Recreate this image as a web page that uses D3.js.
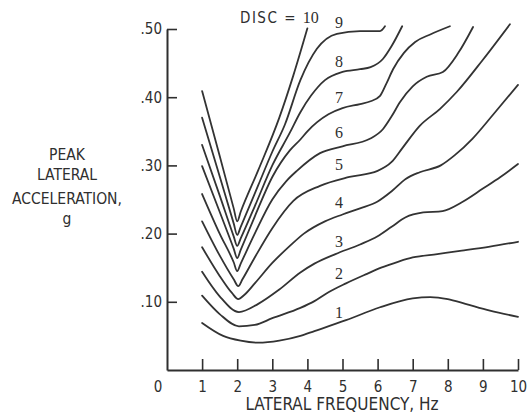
<!DOCTYPE html>
<html>
<head>
<meta charset="utf-8">
<script src="https://cdn.jsdelivr.net/npm/d3@7/dist/d3.min.js"></script>
<style>
  html, body { margin: 0; padding: 0; background: #fff; }
  svg { display: block; }
  .sans { font-family: "Liberation Sans Narrow", "DejaVu Sans Condensed", "Roboto", sans-serif; fill: #2f2f2f; }
  .serif { font-family: "Liberation Serif", "DejaVu Serif", serif; fill: #2f2f2f; }
</style>
</head>
<body>
<svg id="chart" width="527" height="420"></svg>
<script>
// ---- data (frequency Hz, peak lateral acceleration g) ----
const disc1 = [[1,0.069],[1.6,0.050],[2.1,0.043],[2.6,0.040],[3.2,0.043],[3.8,0.050],[4.2,0.057],[5.1,0.073],[6.07,0.092],[7.0,0.105],[7.5,0.107],[8.0,0.104],[8.5,0.097],[9.2,0.087],[10,0.078]];
const disc2 = [[1,0.109],[1.5,0.082],[2.05,0.064],[2.5,0.066],[3.0,0.076],[3.8,0.091],[4.2,0.101],[4.6,0.114],[5.1,0.127],[5.7,0.141],[6.1,0.150],[6.6,0.159],[7.0,0.165],[7.7,0.170],[8.4,0.175],[9.2,0.181],[10,0.188]];
const disc3 = [[1,0.144],[1.5,0.108],[2.05,0.085],[2.6,0.097],[3.2,0.118],[3.8,0.143],[4.2,0.156],[4.8,0.170],[5.5,0.184],[6.0,0.196],[6.4,0.21],[6.8,0.224],[7.3,0.231],[7.85,0.233],[8.4,0.246],[9.0,0.266],[9.5,0.283],[10,0.302]];
const disc4 = [[1,0.180],[1.5,0.138],[1.85,0.113],[2.03,0.104],[2.2,0.11],[2.5,0.127],[3.0,0.157],[3.5,0.182],[3.9,0.20],[4.5,0.218],[5.0,0.228],[5.5,0.237],[6.0,0.247],[6.4,0.262],[6.8,0.28],[7.2,0.29],[7.8,0.30],[8.2,0.315],[8.7,0.339],[9.3,0.375],[10,0.418]];
const disc5 = [[1,0.218],[1.5,0.168],[1.9,0.133],[2.03,0.123],[2.15,0.133],[2.5,0.165],[3.0,0.208],[3.6,0.248],[4.36,0.27],[5.2,0.283],[6.0,0.292],[6.4,0.305],[6.7,0.325],[7.2,0.358],[7.78,0.383],[8.26,0.408],[9.0,0.455],[9.77,0.507]];
const disc6 = [[1,0.258],[1.5,0.2],[1.9,0.158],[2,0.145],[2.1,0.156],[2.5,0.2],[3.0,0.25],[3.4,0.277],[3.7,0.292],[4.36,0.318],[5.0,0.328],[5.78,0.339],[6.15,0.353],[6.4,0.372],[6.64,0.393],[7.0,0.416],[7.4,0.43],[7.86,0.437],[8.3,0.465],[8.72,0.503]];
const disc7 = [[1,0.299],[1.5,0.232],[1.9,0.178],[2,0.164],[2.1,0.176],[2.5,0.225],[3.0,0.283],[3.5,0.322],[3.8,0.338],[4.0,0.350],[4.6,0.375],[5.0,0.384],[5.5,0.390],[5.8,0.394],[6.07,0.402],[6.25,0.42],[6.44,0.441],[6.75,0.465],[7.07,0.481],[7.5,0.492],[8.06,0.504]];
const disc8 = [[1,0.330],[1.5,0.256],[1.9,0.196],[2,0.182],[2.1,0.193],[2.5,0.24],[3.0,0.30],[3.5,0.348],[3.8,0.378],[4.1,0.402],[4.5,0.425],[5.0,0.437],[5.5,0.441],[5.8,0.444],[6.15,0.456],[6.4,0.475],[6.7,0.504]];
const disc9 = [[1,0.370],[1.5,0.284],[1.9,0.215],[2,0.198],[2.1,0.21],[2.6,0.271],[3.0,0.32],[3.36,0.36],[3.8,0.425],[4.27,0.471],[4.84,0.493],[5.5,0.497],[6.07,0.497],[6.21,0.504]];
const disc10 = [[1,0.409],[1.5,0.314],[1.9,0.237],[2,0.218],[2.1,0.232],[2.6,0.293],[3.2,0.370],[3.6,0.432],[4.0,0.501]];

const seriesList = [disc1, disc2, disc3, disc4, disc5, disc6, disc7, disc8, disc9, disc10];

// curve labels (disc rating) placed near 4.9 Hz
const labelNames = ["1","2","3","4","5","6","7","8","9"];
const labelFreq = 4.9;
const labelAcc = [0.085, 0.142, 0.189, 0.246, 0.301, 0.348, 0.399, 0.453, 0.509];

const xTickValues = [1,2,3,4,5,6,7,8,9,10];
const xTickLabels = ["1","2","3","4","5","6","7","8","9","10"];
const yTickValues = [0.1, 0.2, 0.3, 0.4, 0.5];
const yTickLabels = [".10", ".20", ".30", ".40", ".50"];

const xTitle = "LATERAL FREQUENCY, Hz";
const yTitleLines = ["PEAK", "LATERAL", "ACCELERATION,", "g"];
const topLabel = "DISC = ";
const topLabelNum = "10";

// ---- drawing ----
const svg = d3.select("#chart");
const x = d3.scaleLinear().domain([0, 10]).range([167, 518]);
const y = d3.scaleLinear().domain([0, 0.5]).range([370, 29]);
const ink = "#2f2f2f";

// axes
const xAxis = d3.axisBottom(x)
  .tickValues(xTickValues)
  .tickFormat((d, i) => xTickLabels[i])
  .tickSizeInner(-11).tickSizeOuter(0).tickPadding(11);
const gx = svg.append("g").attr("transform", `translate(0,${y(0)})`).call(xAxis);

const yAxis = d3.axisLeft(y)
  .tickValues(yTickValues)
  .tickFormat((d, i) => yTickLabels[i])
  .tickSizeInner(-10).tickSizeOuter(0).tickPadding(5);
const gy = svg.append("g").attr("transform", `translate(${x(0)},0)`).call(yAxis);

[gx, gy].forEach(g => {
  g.select(".domain").attr("stroke", ink).attr("stroke-width", 2);
  g.selectAll(".tick line").attr("stroke", ink).attr("stroke-width", 1.6);
  g.selectAll(".tick text").attr("class", "sans").attr("fill", ink)
    .style("font-size", "15px");
});

// origin label "0"
svg.append("text").attr("class", "sans")
  .attr("x", x(0) - 9).attr("y", y(0) + 11)
  .attr("dy", "0.71em").attr("text-anchor", "middle")
  .style("font-size", "15px").text("0");

// curves
const line = d3.line()
  .x(d => x(d[0])).y(d => y(d[1]))
  .curve(d3.curveMonotoneX);

svg.append("g").selectAll("path")
  .data(seriesList).join("path")
  .attr("d", line)
  .attr("fill", "none")
  .attr("stroke", "#333")
  .attr("stroke-width", 1.8)
  .attr("stroke-linejoin", "round")
  .attr("stroke-linecap", "round");

// curve labels
svg.append("g").selectAll("text")
  .data(labelNames).join("text")
  .attr("class", "serif")
  .attr("x", x(labelFreq))
  .attr("y", (d, i) => y(labelAcc[i]))
  .attr("dy", "0.35em")
  .attr("text-anchor", "middle")
  .style("font-size", "16px")
  .text(d => d);

// top label
const topText = svg.append("text").attr("x", 240).attr("y", 23).style("font-size", "15px");
topText.append("tspan").attr("class", "sans").style("letter-spacing", "1.5px").text(topLabel);
topText.append("tspan").attr("class", "serif").style("font-size", "16px").text(topLabelNum);

// x title
svg.append("text").attr("class", "sans")
  .attr("x", 342).attr("y", 410)
  .attr("text-anchor", "middle")
  .style("font-size", "17px")
  .text(xTitle);

// y title
const yTitleY = [160, 180, 204, 224];
svg.append("g").selectAll("text")
  .data(yTitleLines).join("text")
  .attr("class", "sans")
  .attr("x", 67)
  .attr("y", (d, i) => yTitleY[i])
  .attr("text-anchor", "middle")
  .style("font-size", "15.5px")
  .text(d => d);
</script>
</body>
</html>
